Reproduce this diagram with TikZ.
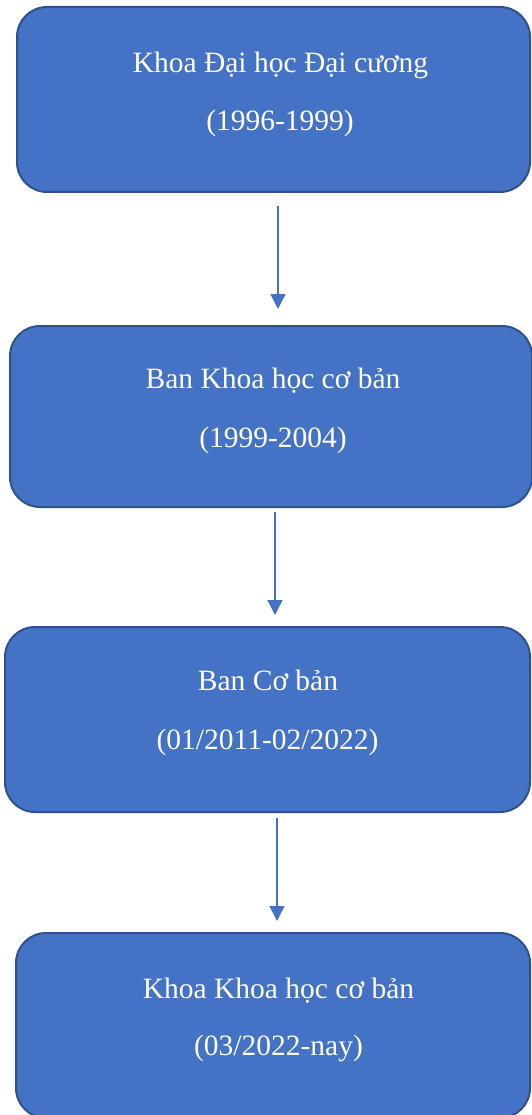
\documentclass[tikz,border=0pt]{standalone}
\usepackage{fontspec}
\setmainfont{Liberation Serif}
\usetikzlibrary{arrows.meta}
\definecolor{boxfill}{HTML}{4472C4}
\definecolor{boxline}{HTML}{2F528F}
\begin{document}
\begin{tikzpicture}[x=1pt,y=-1pt,
  stagebox/.style={draw=boxline, line width=2pt, fill=boxfill, rounded corners=30pt,
    rectangle, inner sep=0pt, outer sep=0pt},
  lbl/.style={text=white, font=\fontsize{29.5}{34}\selectfont, anchor=base, inner sep=0pt},
  flow/.style={draw=boxfill, line width=1.4pt, -{Triangle[length=15pt,width=15pt]}}]
\useasboundingbox (0,0) rectangle (531,1115);
% boxes
\node[stagebox, minimum width=513pt, minimum height=185pt] (b1) at (273.5,99.5) {};
\node[stagebox, minimum width=522pt, minimum height=181pt] (b2) at (271,416.5) {};
\node[stagebox, minimum width=525pt, minimum height=185pt] (b3) at (267.5,719.5) {};
\node[stagebox, minimum width=514pt, minimum height=185pt] (b4) at (273,1025.5) {};
% texts
\node[lbl] (t1a) at (280.5,72.5) {Khoa Đại học Đại cương};
\node[lbl] (t1b) at (280,130.5) {(1996-1999)};
\node[lbl] (t2a) at (273,388.5) {Ban Khoa học cơ bản};
\node[lbl] (t2b) at (273,447) {(1999-2004)};
\node[lbl] (t3a) at (268,690.5) {Ban Cơ bản};
\node[lbl] (t3b) at (267.5,749) {(01/2011-02/2022)};
\node[lbl] (t4a) at (278.5,998.5) {Khoa Khoa học cơ bản};
\node[lbl] (t4b) at (278.5,1055) {(03/2022-nay)};
% arrows
\coordinate (x1) at (278,0);
\coordinate (x2) at (275,0);
\coordinate (x3) at (277,0);
\draw[flow, shorten <=14pt, shorten >=17pt] (b1.south -| x1) -- (b2.north -| x1);
\draw[flow, shorten <=5pt, shorten >=12pt] (b2.south -| x2) -- (b3.north -| x2);
\draw[flow, shorten <=6pt, shorten >=12pt] (b3.south -| x3) -- (b4.north -| x3);
\end{tikzpicture}
\end{document}
